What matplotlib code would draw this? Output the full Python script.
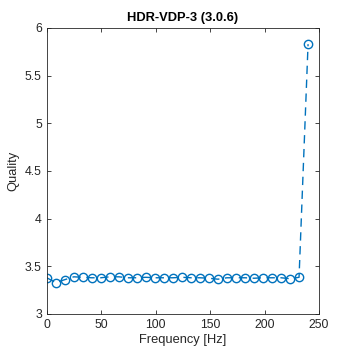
import matplotlib
matplotlib.use("Agg")
import matplotlib.pyplot as plt

freq = [0, 8.28, 16.55, 24.83, 33.10, 41.38, 49.66, 57.93, 66.21, 74.48,
        82.76, 91.03, 99.31, 107.59, 115.86, 124.14, 132.41, 140.69, 148.97, 157.24,
        165.52, 173.79, 182.07, 190.34, 198.62, 206.90, 215.17, 223.45, 231.72, 240]
quality = [3.38, 3.33, 3.36, 3.39, 3.385, 3.38, 3.38, 3.39, 3.39, 3.38,
           3.38, 3.385, 3.38, 3.38, 3.38, 3.385, 3.38, 3.38, 3.375, 3.365,
           3.38, 3.38, 3.38, 3.375, 3.38, 3.38, 3.38, 3.37, 3.385, 5.83]
xticks = [0, 50, 100, 150, 200, 250]
yticks = [3, 3.5, 4, 4.5, 5, 5.5, 6]

plt.rcParams['font.family'] = ['Liberation Sans', 'DejaVu Sans']
fig = plt.figure(figsize=(3.54, 3.54), dpi=100)
ax = fig.add_axes([0.132, 0.113, 0.769, 0.808])
ax.plot(freq, quality, linestyle=(0, (6, 4)), color='#0072BD', linewidth=1.0,
        marker='o', markersize=6, markerfacecolor='none', markeredgewidth=1.0)
ax.set_xlim(0, 250)
ax.set_ylim(3, 6)
ax.set_xticks(xticks)
ax.set_yticks(yticks)
ax.set_yticklabels([f"{v:g}" for v in yticks])
ax.tick_params(direction='in', top=True, right=True, labelsize=8.8, colors='#262626',
               length=3, width=0.6)
for s in ax.spines.values():
    s.set_color('#262626')
    s.set_linewidth(0.6)
ax.set_xlabel('Frequency [Hz]', fontsize=9.3, color='#262626', labelpad=2)
ax.set_ylabel('Quality', fontsize=9.3, color='#262626', labelpad=4)
ax.set_title('HDR-VDP-3 (3.0.6)', fontsize=9.3, fontweight='bold', color='black', pad=5)
fig.savefig('out.png', dpi=100)
